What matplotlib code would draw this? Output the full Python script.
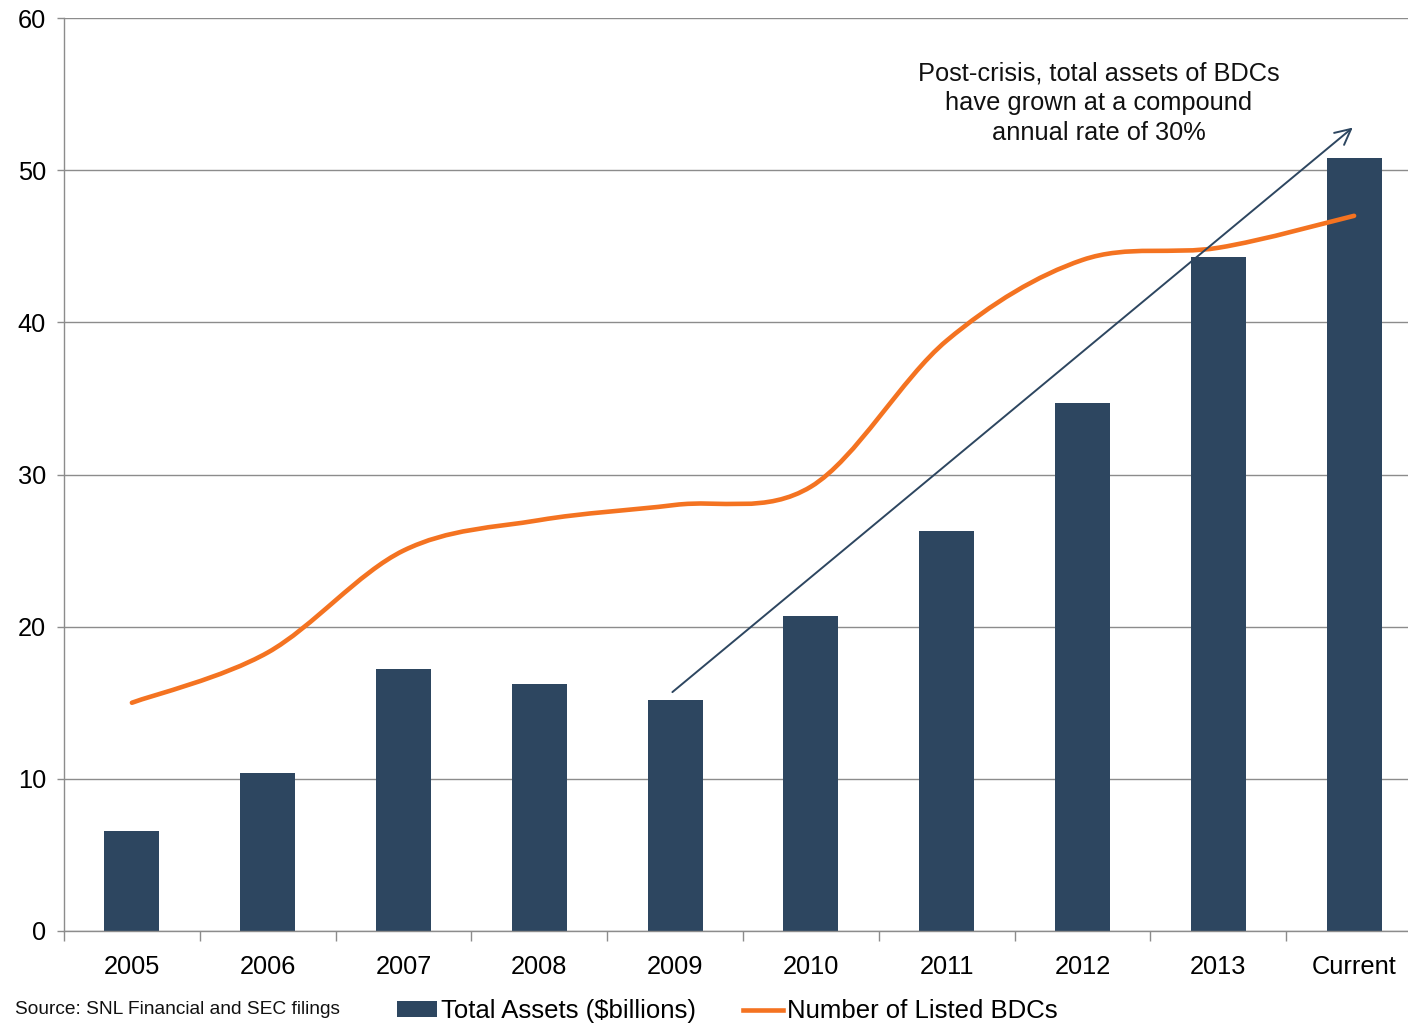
import numpy as np
import matplotlib
matplotlib.use('Agg')
import matplotlib.pyplot as plt
from matplotlib.path import Path
from matplotlib.patches import PathPatch, Patch
from matplotlib.lines import Line2D

plt.rcParams['font.family'] = ['Liberation Sans', 'DejaVu Sans']

categories = ['2005', '2006', '2007', '2008', '2009', '2010', '2011', '2012', '2013', 'Current']
total_assets = [6.6, 10.4, 17.2, 16.2, 15.2, 20.7, 26.3, 34.7, 44.3, 50.8]
num_bdcs = [15.0, 18.3, 25.0, 27.0, 28.0, 29.2, 38.8, 44.1, 44.9, 47.0]

BAR_C = '#2D4660'
LINE_C = '#F47321'
GRID_C = '#8C8C8C'
FS = 18.5

fig = plt.figure(figsize=(14.08, 10.24), dpi=100)
ax = fig.add_axes([64/1408, 1 - 931/1024, 1 - 64/1408, (931 - 18)/1024])

x = np.arange(len(categories))
ax.bar(x, total_assets, width=0.405, color=BAR_C, zorder=2)

# smoothed line (Catmull-Rom style Bezier, as the spreadsheet draws it)
pts = np.column_stack([x, num_bdcs]).astype(float)
verts = [tuple(pts[0])]
codes = [Path.MOVETO]
n = len(pts)
for i in range(n - 1):
    p0 = pts[max(i - 1, 0)]
    p1 = pts[i]
    p2 = pts[i + 1]
    p3 = pts[min(i + 2, n - 1)]
    c1 = p1 + (p2 - p0) / 6.0
    c2 = p2 - (p3 - p1) / 6.0
    verts += [tuple(c1), tuple(c2), tuple(p2)]
    codes += [Path.CURVE4] * 3
ax.add_patch(PathPatch(Path(verts, codes), facecolor='none', edgecolor=LINE_C,
                       lw=3.3, zorder=3, capstyle='round'))

# growth arrow
ax.annotate('', xy=(8.99, 52.8), xytext=(3.98, 15.7),
            arrowprops=dict(arrowstyle='->', color=BAR_C, lw=1.4,
                            mutation_scale=28, shrinkA=0, shrinkB=0), zorder=4)
ax.text(7.12, 54.4, 'Post-crisis, total assets of BDCs\nhave grown at a compound\nannual rate of 30%',
        ha='center', va='center', fontsize=18.3, linespacing=1.32, color='#111111')

ax.set_yticks(range(0, 61, 10))
ax.yaxis.grid(True, color=GRID_C, lw=1.0, zorder=0)
ax.set_axisbelow(True)
ax.set_xticks(x)
ax.set_xticklabels(categories)
ax.set_xticks(np.arange(-0.5, 9.0, 1.0), minor=True)
ax.set_xlim(-0.5, -0.5 + 1344 / 135.8)
ax.set_ylim(0, 60)
ax.tick_params(axis='x', which='major', length=0, pad=17, labelsize=18.3)
ax.tick_params(axis='x', which='minor', length=7, color=GRID_C, width=1.0)
ax.tick_params(axis='y', length=5, color=GRID_C, width=1.0, pad=8, labelsize=18.3)
for s in ['top', 'right']:
    ax.spines[s].set_visible(False)
for s in ['left', 'bottom']:
    ax.spines[s].set_color(GRID_C)
    ax.spines[s].set_linewidth(1.0)

fig.text(15/1408, 1 - 1010/1024, 'Source: SNL Financial and SEC filings', fontsize=13.8,
         ha='left', va='center', color='#111111')

handles = [Patch(facecolor=BAR_C, edgecolor='none'),
           Line2D([0], [0], color=LINE_C, lw=3.3)]
fig.legend(handles, ['Total Assets ($billions)', 'Number of Listed BDCs'],
           loc='center left', bbox_to_anchor=(397/1408, 1 - 1011/1024), ncol=2,
           frameon=False, fontsize=FS, handlelength=1.57, handleheight=0.55,
           handletextpad=0.16, columnspacing=1.8, borderpad=0, borderaxespad=0)

fig.savefig('out.png', dpi=100)
